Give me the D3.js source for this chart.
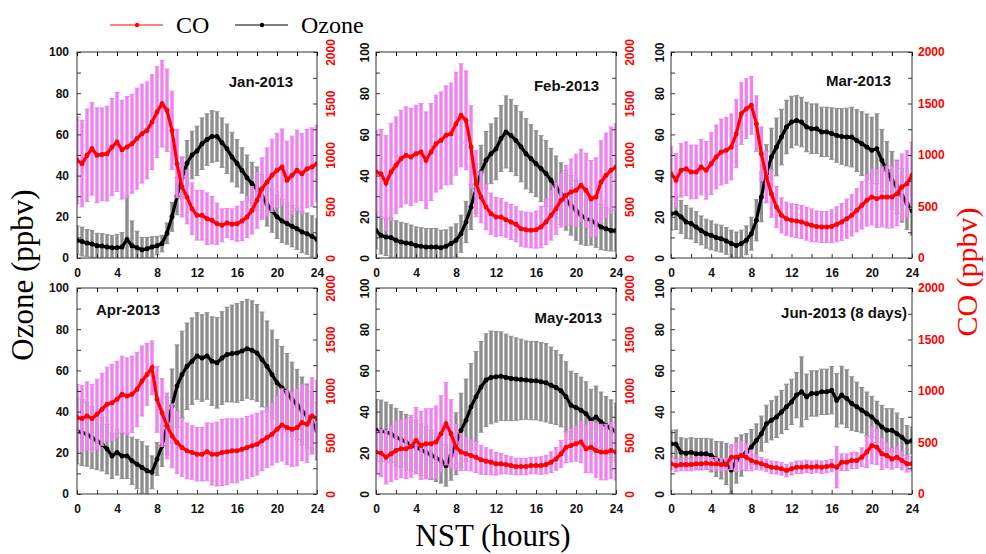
<!DOCTYPE html>
<html>
<head>
<meta charset="utf-8">
<script src="https://cdn.jsdelivr.net/npm/d3@7"></script>
<style>
  body { margin: 0; background: #fff; }
  text { font-family: 'Liberation Sans', Arial, sans-serif; }
  .serif { font-family: 'Liberation Serif', 'Times New Roman', serif; }
</style>
</head>
<body>
<svg id="chart" width="986" height="554"></svg>
<script>
// half-hourly diurnal means and standard deviations
const hours = [0, 0.5, 1, 1.5, 2, 2.5, 3, 3.5, 4, 4.5, 5, 5.5, 6, 6.5, 7, 7.5, 8, 8.5, 9, 9.5,
  10, 10.5, 11, 11.5, 12, 12.5, 13, 13.5, 14, 14.5, 15, 15.5, 16, 16.5, 17, 17.5, 18, 18.5, 19, 19.5,
  20, 20.5, 21, 21.5, 22, 22.5, 23, 23.5, 24]
const hourTicks = [0, 4, 8, 12, 16, 20, 24]
const ozoneTicks = [0, 20, 40, 60, 80, 100]
const coTicks = [0, 500, 1000, 1500, 2000]
const months = ['Jan-2013', 'Feb-2013', 'Mar-2013', 'Apr-2013', 'May-2013', 'Jun-2013 (8 days)']

const janOzone = [8.6, 8, 7.3, 6.8, 6, 5.8, 5.3, 5, 5, 5.3, 9, 6, 5, 4, 4.5, 5.3, 6, 7, 12, 20,
  30, 39, 46, 50, 52, 55.5, 57.5, 59, 59, 56, 53, 49, 46, 42.5, 39, 36, 33.7, 30, 26, 23,
  20, 18, 16.7, 15.4, 14.2, 12.6, 11.8, 10.5, 9]
const janOzoneSd = [7, 7, 6.5, 6.5, 6, 6, 6, 6, 6.5, 7, 21, 12, 8, 6, 5.5, 5, 4.5, 4, 5, 7,
  9, 10, 11, 11.5, 12, 12.5, 12.5, 12.5, 12, 12, 12, 12, 11.5, 11, 11, 10.5, 10.5, 10.5, 10.5, 10.5,
  10.5, 10.5, 10, 10, 10, 10, 10, 10, 10]
const janCO = [948, 916, 997, 1061, 997, 1006, 1013, 1078, 1126, 1052, 1078, 1110, 1159, 1207, 1239, 1320, 1417, 1498, 1434, 1239,
  916, 689, 592, 479, 414, 414, 382, 366, 333, 317, 340, 327, 333, 359, 398, 463, 560, 673, 738, 803,
  851, 883, 754, 803, 851, 819, 867, 883, 916]
const janCOSd = [420, 420, 450, 450, 460, 450, 460, 470, 480, 480, 490, 480, 490, 480, 470, 460, 440, 420, 400, 380,
  330, 290, 260, 250, 240, 240, 250, 230, 200, 160, 140, 150, 170, 190, 200, 230, 270, 300, 330, 350,
  360, 370, 380, 380, 390, 390, 380, 380, 370]

const febOzone = [13.4, 11, 10.2, 9.9, 8.6, 7.8, 7.3, 7, 6.1, 5.7, 5.3, 5.3, 5.3, 5, 5.7, 7, 8.6, 11.8, 17.5, 24.8,
  33.7, 41.7, 47.4, 50.6, 53, 58, 61.2, 59.5, 57, 54, 50.6, 48.2, 45.8, 43.4, 41, 37.7, 34.5, 31.2, 28, 25.6,
  23.1, 20.7, 19.1, 18.3, 16.7, 15, 14.2, 13.4, 13.4]
const febOzoneSd = [9, 9, 9, 9.5, 9.5, 9.5, 9.5, 9, 9, 9, 9, 9, 9, 8.5, 8, 8, 8, 9, 10, 11,
  12, 13, 14, 14.5, 15, 16, 17.5, 17.5, 17, 17, 17, 16.5, 16, 16, 16, 15.5, 15, 15, 14.5, 14.5,
  14.5, 14, 13, 12, 11.5, 11, 10.5, 10, 10]
const febCO = [835, 819, 728, 835, 900, 964, 997, 981, 1013, 1029, 948, 1029, 1110, 1142, 1191, 1207, 1304, 1385, 1337, 1078,
  722, 592, 495, 430, 398, 398, 372, 350, 327, 285, 275, 269, 275, 301, 350, 414, 479, 560, 608, 641,
  657, 706, 657, 576, 592, 738, 803, 851, 883]
const febCOSd = [400, 430, 460, 470, 470, 470, 470, 470, 470, 470, 470, 470, 470, 470, 480, 490, 500, 500, 480, 400,
  320, 250, 220, 200, 190, 180, 170, 170, 170, 170, 170, 170, 180, 200, 220, 240, 250, 260, 290, 320,
  350, 350, 360, 370, 380, 400, 410, 420, 420]

const marOzone = [21.5, 21.8, 20, 17.5, 16.7, 15, 13.4, 11.8, 11, 9.9, 9.4, 8.3, 7, 6.1, 7, 8.6, 11.8, 18.3, 29.6, 41,
  49, 53.9, 58.7, 63.6, 66, 66.8, 66, 63.6, 62.8, 62.8, 61.2, 61.2, 60.4, 59.5, 59, 58.7, 58.7, 57, 55.5, 53.9,
  52.3, 53, 47.4, 42.5, 37.7, 34.5, 30.4, 26.4, 23.1]
const marOzoneSd = [8, 8, 8, 8, 7.5, 7.5, 7, 7, 7, 6.5, 6.5, 6.5, 6.5, 6.5, 6.5, 7, 8, 10, 12, 14,
  14, 14, 13.5, 13, 12.5, 12, 12, 12, 12, 12, 12, 12, 12.5, 13, 13.5, 14, 14.5, 15, 15.5, 16,
  16, 17, 15, 14, 14, 13, 13, 12.5, 12]
const marCO = [819, 754, 851, 867, 835, 835, 883, 851, 916, 981, 1029, 1045, 1078, 1207, 1401, 1450, 1482, 1304, 1013, 786,
  625, 495, 414, 382, 366, 359, 350, 333, 317, 307, 301, 301, 307, 327, 350, 382, 414, 463, 511, 560,
  592, 576, 592, 592, 592, 625, 689, 722, 803]
const marCOSd = [260, 260, 260, 260, 260, 260, 270, 280, 300, 310, 320, 320, 320, 330, 300, 290, 280, 270, 260, 250,
  230, 200, 170, 160, 160, 160, 160, 160, 160, 150, 150, 150, 160, 170, 180, 190, 200, 210, 230, 250,
  270, 280, 290, 300, 300, 310, 320, 320, 320]

const aprOzone = [30.6, 29.8, 29, 27.4, 25.8, 24.2, 21.8, 18.5, 20.2, 18.5, 18.5, 16.1, 14.5, 12.9, 11.3, 10.5, 17, 23.4, 33, 42.7,
  52.4, 58, 62, 64.5, 67, 66, 67, 64.5, 63.7, 66, 67.7, 68.2, 68.5, 69.4, 70.5, 69.8, 68.5, 65.3, 62, 58,
  54, 51.6, 49.2, 46, 43.5, 40.3, 37.9, 34.7, 30.6]
const aprOzoneSd = [16, 16, 15.5, 15, 14, 13, 12, 11, 11, 11, 11, 11.5, 12, 12.5, 12, 8, 8, 10, 14, 18,
  20, 21, 21, 21, 21, 21, 21, 21.5, 22, 22.5, 23, 23.5, 24, 24, 24, 24, 23.5, 23, 22, 21.5,
  21, 20, 19, 18, 17, 16.5, 15.5, 15, 14]
const aprCO = [742, 732, 758, 732, 774, 823, 871, 887, 919, 968, 952, 968, 1016, 1097, 1161, 1226, 919, 790, 661, 565,
  500, 452, 419, 403, 387, 387, 410, 387, 387, 403, 410, 419, 419, 435, 452, 468, 484, 516, 548, 581,
  629, 671, 645, 629, 645, 694, 677, 758, 732]
const aprCOSd = [320, 320, 330, 330, 340, 350, 360, 370, 370, 370, 370, 370, 360, 340, 300, 260, 320, 330, 320, 310,
  300, 280, 270, 260, 260, 260, 280, 300, 310, 320, 320, 310, 310, 300, 300, 300, 300, 290, 290, 300,
  320, 350, 360, 360, 370, 370, 370, 370, 370]

const mayOzone = [30.9, 30.6, 30.1, 29.3, 27.6, 26.5, 25.2, 24.1, 22.8, 21.5, 20.3, 19, 17.6, 16.3, 13.8, 18.7, 24.4, 30.9, 35.8, 42.3,
  47.2, 52, 55.3, 56.6, 56.9, 57.2, 56.6, 56.1, 55.8, 55.6, 55.3, 55, 55, 54.5, 54, 52.8, 51.7, 50.1, 47.2, 43.1,
  42, 40.7, 39, 35.8, 37.4, 35, 33.3, 31.7, 30.1]
const mayOzoneSd = [15, 15, 14.5, 14, 14, 13.5, 13.5, 13, 13, 12.5, 12.5, 12, 11.5, 11, 10, 12, 15, 18, 20, 21,
  22, 22, 22.5, 22.5, 22, 21.5, 21, 20.5, 20, 19.5, 19, 19, 19, 19, 19, 18.5, 18, 17.5, 17, 16.5,
  16.5, 16, 15.5, 15, 15, 14.5, 14, 14, 14]
const mayCO = [407, 397, 358, 390, 423, 439, 439, 462, 520, 472, 488, 488, 504, 585, 683, 585, 455, 407, 390, 374,
  358, 332, 319, 309, 293, 293, 286, 276, 267, 267, 267, 276, 276, 276, 286, 309, 341, 390, 455, 472,
  488, 504, 439, 455, 423, 407, 407, 423, 407]
const mayCOSd = [200, 230, 260, 270, 280, 280, 290, 300, 320, 330, 340, 340, 350, 370, 400, 330, 220, 180, 160, 150,
  150, 140, 130, 120, 110, 100, 90, 85, 80, 80, 80, 80, 80, 85, 90, 100, 110, 130, 150, 160,
  170, 200, 230, 250, 260, 270, 270, 270, 270]

const junOzone = [24.4, 24.1, 20.3, 19.8, 20.3, 19.5, 19.5, 19.5, 18.7, 17, 16.3, 14.6, 11.7, 16.3, 18.7, 20.3, 22.8, 26, 29.3, 34.1,
  35.8, 37.4, 39.8, 42.3, 44.7, 48, 49.6, 47.2, 48.8, 48.8, 49.6, 49.6, 50.4, 45.5, 48, 46.3, 43.9, 42.3, 40.7, 39,
  37.4, 35, 32.5, 30.9, 30.9, 29.3, 27.6, 25.2, 26]
const junOzoneSd = [6.5, 7, 7, 7, 7, 7.5, 7.5, 7.5, 8, 8.5, 9, 10, 11.5, 11, 10, 9, 8.5, 8, 8.5, 9,
  9.5, 10, 10.5, 11, 11, 11, 17, 11, 11, 11, 11, 11, 11.5, 13, 14, 14, 13, 12, 11, 10.5,
  10, 10, 10.5, 10.5, 10.5, 10, 9, 8, 6.5]
const junCO = [293, 276, 286, 286, 286, 293, 293, 299, 293, 293, 286, 286, 358, 358, 374, 358, 325, 309, 293, 276,
  260, 254, 244, 228, 244, 260, 260, 267, 260, 267, 260, 267, 276, 260, 309, 309, 325, 325, 358, 407,
  472, 455, 390, 374, 341, 358, 325, 293, 293]
const junCOSd = [60, 60, 60, 60, 60, 60, 60, 60, 60, 60, 60, 60, 120, 140, 140, 130, 100, 70, 60, 60,
  60, 60, 60, 60, 60, 60, 60, 60, 60, 60, 60, 60, 60, 200, 80, 80, 80, 80, 90, 150,
  180, 170, 150, 120, 100, 100, 90, 80, 70]

const red = '#ff0000'
const svg = d3.select('#chart')

// plot frames: column x-ranges and row y-ranges
const cols = [[77, 317], [376, 616], [671, 912]]
const rows = [[52, 258], [288, 494]]

const panels = [
  { title: months[0], ozone: janOzone, ozoneSd: janOzoneSd, co: janCO, coSd: janCOSd, col: 0, row: 0, tx: -24, ty: 35, anchor: 'end' },
  { title: months[1], ozone: febOzone, ozoneSd: febOzoneSd, co: febCO, coSd: febCOSd, col: 1, row: 0, tx: -17, ty: 39, anchor: 'end' },
  { title: months[2], ozone: marOzone, ozoneSd: marOzoneSd, co: marCO, coSd: marCOSd, col: 2, row: 0, tx: -21, ty: 34, anchor: 'end' },
  { title: months[3], ozone: aprOzone, ozoneSd: aprOzoneSd, co: aprCO, coSd: aprCOSd, col: 0, row: 1, tx: 19, ty: 27, anchor: 'start' },
  { title: months[4], ozone: mayOzone, ozoneSd: mayOzoneSd, co: mayCO, coSd: mayCOSd, col: 1, row: 1, tx: -14, ty: 35, anchor: 'end' },
  { title: months[5], ozone: junOzone, ozoneSd: junOzoneSd, co: junCO, coSd: junCOSd, col: 2, row: 1, tx: -5, ty: 30, anchor: 'end' }
]

panels.forEach((p, k) => drawPanel(p, k))

function drawPanel (p, k) {
  const [x0, x1] = cols[p.col]
  const [y0, y1] = rows[p.row]
  const x = d3.scaleLinear().domain([0, 24]).range([x0, x1])
  const yO = d3.scaleLinear().domain([0, 100]).range([y1, y0])
  const yC = d3.scaleLinear().domain([0, 2000]).range([y1, y0])

  svg.append('clipPath').attr('id', 'clip' + k)
    .append('rect').attr('x', x0).attr('y', y0).attr('width', x1 - x0).attr('height', y1 - y0)

  const g = svg.append('g').attr('clip-path', `url(#clip${k})`)
  const ozRows = hours.map((h, i) => ({ h, v: p.ozone[i], sd: p.ozoneSd[i] }))
  const coRows = hours.map((h, i) => ({ h, v: p.co[i], sd: p.coSd[i] }))

  errorBars(g, ozRows, x, yO, '#8e8e8e')
  meanLine(g, ozRows, x, yO, '#000')
  errorBars(g, coRows, x, yC, '#ee82ee')
  meanLine(g, coRows, x, yC, red)

  // frame
  svg.append('rect').attr('x', x0).attr('y', y0).attr('width', x1 - x0).attr('height', y1 - y0)
    .attr('fill', 'none').attr('stroke', '#333').attr('stroke-width', 1)

  // bottom + top ticks (inward), labels every 4 h
  const xb = svg.append('g').attr('transform', `translate(0,${y1})`)
    .call(d3.axisBottom(x).tickValues(d3.range(0, 25, 2)).tickSize(-4).tickPadding(10)
      .tickFormat(d => hourTicks.includes(d) ? d : ''))
  svg.append('g').attr('transform', `translate(0,${y0})`)
    .call(d3.axisTop(x).tickValues(d3.range(0, 25, 2)).tickSize(-4).tickFormat(''))

  const yl = svg.append('g').attr('transform', `translate(${x0},0)`)
    .call(d3.axisLeft(yO).tickValues(d3.range(0, 101, 10)).tickSize(-4).tickPadding(8)
      .tickFormat(d => ozoneTicks.includes(d) ? d : ''))
  const yr = svg.append('g').attr('transform', `translate(${x1},0)`)
    .call(d3.axisRight(yC).tickValues(d3.range(0, 2001, 250)).tickSize(-4).tickPadding(6)
      .tickFormat(d => coTicks.includes(d) ? d : ''))

  svg.selectAll('.domain').remove()
  ;[xb, yl, yr].forEach(a => {
    a.selectAll('line').attr('stroke', '#333')
    a.selectAll('text').attr('font-size', 12).attr('font-weight', 'bold')
      .attr('font-family', "'Liberation Sans', Arial, sans-serif").attr('fill', '#111')
  })
  yr.selectAll('text').attr('fill', red)

  // inner tick labels are turned upright
  if (p.col > 0) {
    yl.selectAll('text').attr('x', null).attr('dy', '0.35em').attr('text-anchor', 'middle')
      .attr('transform', 'translate(-11,0) rotate(-90)')
  }
  if (p.col < 2) {
    yr.selectAll('text').attr('x', null).attr('dy', '0.35em').attr('text-anchor', 'middle')
      .attr('transform', 'translate(14,0) rotate(-90)')
  }

  svg.append('text').attr('x', (p.anchor === 'end' ? x1 : x0) + p.tx).attr('y', y0 + p.ty)
    .attr('text-anchor', p.anchor).attr('font-size', 15).attr('font-weight', 'bold')
    .attr('fill', '#111').text(p.title)
}

function errorBars (g, data, x, y, color) {
  const bars = g.append('g').attr('stroke', color).attr('stroke-width', 3.4)
  bars.selectAll('line.bar').data(data).join('line').attr('class', 'bar')
    .attr('x1', d => x(d.h)).attr('x2', d => x(d.h))
    .attr('y1', d => y(d.v - d.sd)).attr('y2', d => y(d.v + d.sd))
  const caps = g.append('g').attr('stroke', color).attr('stroke-width', 1)
  caps.selectAll('line.top').data(data).join('line').attr('class', 'top')
    .attr('x1', d => x(d.h) - 2.5).attr('x2', d => x(d.h) + 2.5)
    .attr('y1', d => y(d.v + d.sd)).attr('y2', d => y(d.v + d.sd))
  caps.selectAll('line.bot').data(data).join('line').attr('class', 'bot')
    .attr('x1', d => x(d.h) - 2.5).attr('x2', d => x(d.h) + 2.5)
    .attr('y1', d => y(d.v - d.sd)).attr('y2', d => y(d.v - d.sd))
}

function meanLine (g, data, x, y, color) {
  g.append('path').datum(data)
    .attr('d', d3.line().x(d => x(d.h)).y(d => y(d.v)))
    .attr('fill', 'none').attr('stroke', color).attr('stroke-width', 3.2)
  g.append('g').selectAll('circle').data(data).join('circle')
    .attr('cx', d => x(d.h)).attr('cy', d => y(d.v)).attr('r', 2.5).attr('fill', color)
}

// legend
const legend = [{ name: 'CO', color: red, x: 110 }, { name: 'Ozone', color: '#000', x: 235 }]
const lg = svg.append('g').attr('transform', 'translate(0,25)')
legend.forEach(l => {
  lg.append('line').attr('x1', l.x).attr('x2', l.x + 53).attr('y1', 0).attr('y2', 0)
    .attr('stroke', l.color).attr('stroke-width', 1)
  lg.append('circle').attr('cx', l.x + 27).attr('cy', 0).attr('r', 2.2).attr('fill', l.color)
  lg.append('text').attr('class', 'serif').attr('x', l.x + 66).attr('y', 8)
    .attr('font-size', 24).attr('fill', '#000').text(l.name)
})

// axis titles
svg.append('text').attr('class', 'serif').attr('transform', 'translate(33,275) rotate(-90)')
  .attr('text-anchor', 'middle').attr('font-size', 31).attr('fill', '#000').text('Ozone (ppbv)')
svg.append('text').attr('class', 'serif').attr('transform', 'translate(977,272) rotate(-90)')
  .attr('text-anchor', 'middle').attr('font-size', 30).attr('fill', red).text('CO (ppbv)')
svg.append('text').attr('class', 'serif').attr('x', 493).attr('y', 546)
  .attr('text-anchor', 'middle').attr('font-size', 31).attr('fill', '#000').text('NST (hours)')
</script>
</body>
</html>
